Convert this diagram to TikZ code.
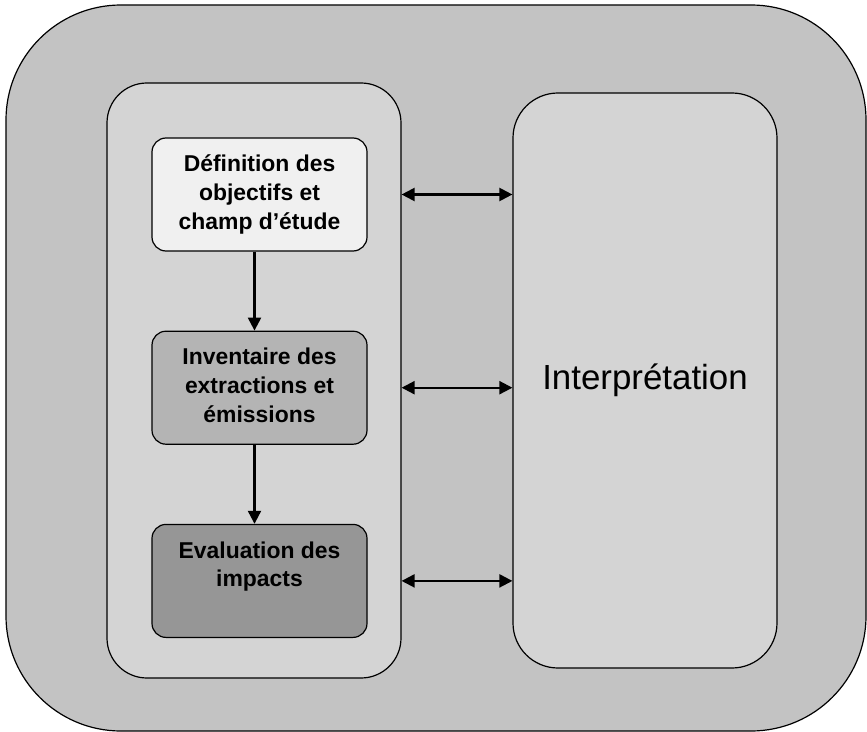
\documentclass[tikz,border=0pt]{standalone}
\usepackage{fontspec}
\setmainfont{Liberation Sans}
\usetikzlibrary{arrows.meta,positioning}
\definecolor{FrameGray}{RGB}{195,195,195}
\definecolor{PanelGray}{RGB}{212,212,212}
\definecolor{StepLight}{RGB}{240,240,240}
\definecolor{StepMid}{RGB}{180,180,180}
\definecolor{StepDark}{RGB}{150,150,150}

\begin{document}
\begin{tikzpicture}[
    x=1bp, y=-1bp,
    node distance=79bp,
    frame/.style={draw=black, line width=1.2bp, fill=FrameGray, rounded corners=115bp, minimum width=860bp, minimum height=726bp},
    panel/.style={draw=black, line width=1.2bp, fill=PanelGray, rounded corners=40bp, minimum width=294bp, minimum height=595bp},
    interp/.style={draw=black, line width=1.2bp, fill=PanelGray, rounded corners=45bp, minimum width=264bp, minimum height=575bp, font=\fontsize{35}{40}\selectfont},
    stepbox/.style={draw=black, line width=1.2bp, rounded corners=14bp, minimum width=215bp, minimum height=113bp, inner sep=0pt,
      font=\fontsize{23}{29}\selectfont\bfseries,
      execute at begin node={\begin{minipage}[c][79bp][t]{215bp}\centering},
      execute at end node={\end{minipage}}},
    down/.style={-{Triangle[length=13bp, width=13bp]}, line width=2.2bp},
    both/.style={{Triangle[length=13bp, width=13bp]}-{Triangle[length=13bp, width=13bp]}, line width=2.2bp}
  ]
    \useasboundingbox (0,0) rectangle (867,732);
    \node[frame] (outer) at (436,368) {};
    \node[panel] (phases) at (254,380.5) {};
    \node[interp] (interp) at (645,380.5) {Interprétation};
    \node[stepbox, fill=StepLight] (goal) at (259.5,194.5) {Définition des\\objectifs et\\champ d’étude};
    \node[stepbox, fill=StepMid, below=of goal] (inventory) {Inventaire des\\extractions et\\émissions};
    \node[stepbox, fill=StepDark, below=of inventory] (impact) {Evaluation des\\impacts};
    \draw[down] ([xshift=-5bp]goal.south) -- ([xshift=-5bp]inventory.north);
    \draw[down] ([xshift=-5bp]inventory.south) -- ([xshift=-5bp]impact.north);
    \foreach \s in {goal,inventory,impact} {\draw[both] (\s -| phases.east) -- (\s -| interp.west);}
  \end{tikzpicture}
\end{document}
